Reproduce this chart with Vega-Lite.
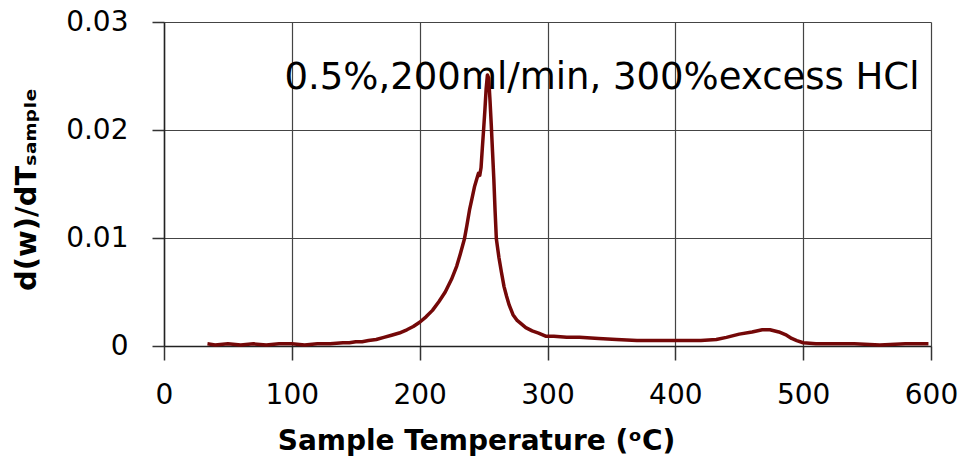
{
  "$schema": "https://vega.github.io/schema/vega-lite/v6.json",
  "width": 767,
  "height": 324,
  "autosize": "none",
  "padding": {"left": 164, "top": 22, "right": 35, "bottom": 111},
  "background": "white",
  "config": {
    "font": "DejaVu Sans",
    "view": {"stroke": null}
  },
  "datasets": {
    "curve": [
      {"T": 34, "v": 0.0002}, {"T": 40, "v": 0.0001}, {"T": 50, "v": 0.0002}, {"T": 60, "v": 0.0001},
      {"T": 70, "v": 0.0002}, {"T": 80, "v": 0.0001}, {"T": 90, "v": 0.0002}, {"T": 100, "v": 0.0002},
      {"T": 110, "v": 0.0001}, {"T": 120, "v": 0.0002}, {"T": 130, "v": 0.0002}, {"T": 140, "v": 0.0003},
      {"T": 145, "v": 0.0003}, {"T": 150, "v": 0.0004}, {"T": 155, "v": 0.0004}, {"T": 160, "v": 0.0005},
      {"T": 166, "v": 0.0006}, {"T": 172, "v": 0.0008}, {"T": 178, "v": 0.0010}, {"T": 184, "v": 0.0012},
      {"T": 190, "v": 0.0015}, {"T": 195, "v": 0.0018}, {"T": 200, "v": 0.0022}, {"T": 205, "v": 0.0027},
      {"T": 210, "v": 0.0033}, {"T": 215, "v": 0.0041}, {"T": 220, "v": 0.0050}, {"T": 225, "v": 0.0062},
      {"T": 229, "v": 0.0074}, {"T": 232, "v": 0.0086}, {"T": 235, "v": 0.0099}, {"T": 237, "v": 0.0112},
      {"T": 239, "v": 0.0126}, {"T": 241, "v": 0.0137}, {"T": 243, "v": 0.0148}, {"T": 245, "v": 0.0156},
      {"T": 246, "v": 0.0160}, {"T": 247, "v": 0.0158}, {"T": 248, "v": 0.0165}, {"T": 249, "v": 0.0183},
      {"T": 250, "v": 0.0200}, {"T": 251, "v": 0.0218}, {"T": 252, "v": 0.0238}, {"T": 253, "v": 0.0251},
      {"T": 254, "v": 0.0248}, {"T": 255, "v": 0.0228}, {"T": 256, "v": 0.0205}, {"T": 257, "v": 0.0180},
      {"T": 258, "v": 0.0155}, {"T": 259, "v": 0.0125}, {"T": 260, "v": 0.0099}, {"T": 262, "v": 0.0082},
      {"T": 264, "v": 0.0068}, {"T": 266, "v": 0.0055}, {"T": 268, "v": 0.0046}, {"T": 270, "v": 0.0038},
      {"T": 273, "v": 0.0029}, {"T": 276, "v": 0.0024}, {"T": 280, "v": 0.0020}, {"T": 283, "v": 0.0017},
      {"T": 288, "v": 0.0014}, {"T": 293, "v": 0.0012}, {"T": 299, "v": 0.0009}, {"T": 305, "v": 0.0009},
      {"T": 315, "v": 0.0008}, {"T": 325, "v": 0.0008}, {"T": 340, "v": 0.0007}, {"T": 354, "v": 0.0006},
      {"T": 370, "v": 0.0005}, {"T": 385, "v": 0.0005}, {"T": 398, "v": 0.0005}, {"T": 410, "v": 0.0005},
      {"T": 420, "v": 0.0005}, {"T": 432, "v": 0.0006}, {"T": 440, "v": 0.0008}, {"T": 450, "v": 0.0011},
      {"T": 460, "v": 0.0013}, {"T": 468, "v": 0.0015}, {"T": 474, "v": 0.0015}, {"T": 481, "v": 0.0013},
      {"T": 487, "v": 0.0010}, {"T": 491, "v": 0.0007}, {"T": 495, "v": 0.0005}, {"T": 500, "v": 0.0003},
      {"T": 510, "v": 0.0002}, {"T": 523, "v": 0.0002}, {"T": 540, "v": 0.0002}, {"T": 560, "v": 0.0001},
      {"T": 580, "v": 0.0002}, {"T": 598, "v": 0.0002}
    ],
    "note": [
      {"T": 591, "v": 0.0238, "label": "0.5%,200ml/min, 300%excess HCl"}
    ]
  },
  "layer": [
    {
      "data": {"name": "curve"},
      "mark": {"type": "line", "color": "#740808", "strokeWidth": 3.5, "strokeJoin": "round"},
      "encoding": {
        "x": {
          "field": "T",
          "type": "quantitative",
          "scale": {"domain": [0, 600], "nice": false, "zero": false},
          "axis": {
            "values": [0, 100, 200, 300, 400, 500, 600],
            "title": "Sample Temperature (ᵒC)",
            "titleFont": "DejaVu Sans",
            "titleFontSize": 28,
            "titleFontWeight": "bold",
            "titleColor": "#000000",
            "titleX": 312,
            "titleY": 103,
            "titleAlign": "center",
            "titleBaseline": "alphabetic",
            "labelFont": "DejaVu Sans",
            "labelFontSize": 28,
            "labelColor": "#000000",
            "labelPadding": 21,
            "labelBaseline": "top",
            "labelFlush": false,
            "tickSize": 14,
            "tickColor": "#333333",
            "tickWidth": 1.5,
            "domainColor": "#222222",
            "domainWidth": 1.5,
            "grid": true,
            "gridColor": "#444444",
            "gridWidth": 1.2
          }
        },
        "y": {
          "field": "v",
          "type": "quantitative",
          "scale": {"domain": [0, 0.03], "nice": false},
          "axis": {
            "values": [0, 0.01, 0.02, 0.03],
            "labelExpr": "datum.value == 0 ? '0' : format(datum.value, '.2f')",
            "title": "d(w)/dTₛₐₘₚₗₑ",
            "titleFont": "DejaVu Sans",
            "titleFontSize": 29,
            "titleFontWeight": "bold",
            "titleColor": "#000000",
            "titleAngle": -90,
            "titleX": -129,
            "titleY": 167,
            "titleAlign": "center",
            "titleBaseline": "alphabetic",
            "labelFont": "DejaVu Sans",
            "labelFontSize": 28,
            "labelColor": "#000000",
            "labelPadding": 24,
            "labelFlush": false,
            "tickSize": 12,
            "tickColor": "#333333",
            "tickWidth": 1.5,
            "domainColor": "#222222",
            "domainWidth": 1.5,
            "grid": true,
            "gridColor": "#444444",
            "gridWidth": 1.2
          }
        }
      }
    },
    {
      "data": {"name": "note"},
      "mark": {"type": "text", "align": "right", "baseline": "alphabetic", "font": "DejaVu Sans", "fontSize": 37, "color": "#000000"},
      "encoding": {
        "x": {"field": "T", "type": "quantitative"},
        "y": {"field": "v", "type": "quantitative"},
        "text": {"field": "label"}
      }
    }
  ]
}
